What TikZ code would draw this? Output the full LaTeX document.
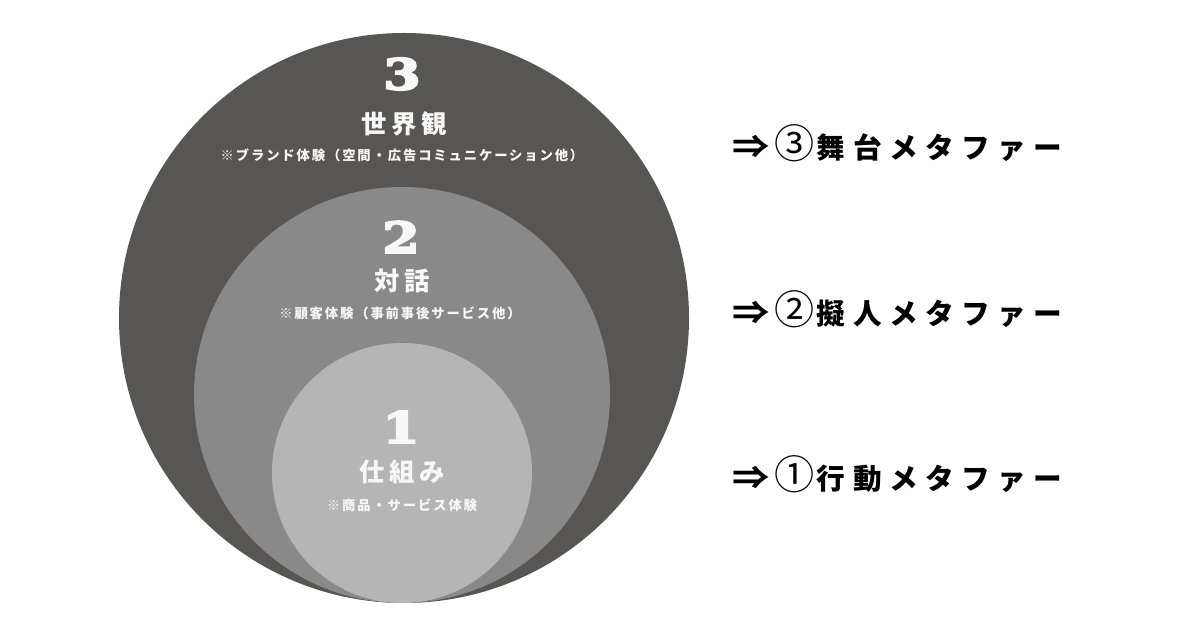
\documentclass[tikz,border=0pt]{standalone}
\usepackage{fontspec}
\newfontfamily\titlefont[LetterSpace=18]{Noto Sans CJK JP}
\newfontfamily\notefont[LetterSpace=14]{Noto Sans CJK JP}
\newfontfamily\metafont[LetterSpace=26]{Noto Sans CJK JP}
\newfontfamily\ringfont{Noto Sans CJK JP}
\newfontfamily\numfont[FakeBold=4.5]{DejaVu Serif Bold}
\definecolor{worldgray}{HTML}{585654}
\definecolor{talkgray}{HTML}{898989}
\definecolor{mechgray}{HTML}{B4B5B4}
\definecolor{labelwhite}{HTML}{F7F7F7}
\newcommand\metaline[2]{\makebox[31.5pt][l]{\scalebox{1.3}[1.1]{⇒}}\makebox[32pt][l]{\ringfont\mdseries\scalebox{1.4}{#1}}#2}
\tikzset{
  disc/.style={circle, inner sep=0pt, draw=none},
  num/.style={text=labelwhite, inner sep=0pt, font=\numfont\fontsize{32}{32}\selectfont},
  title/.style={text=labelwhite, inner sep=0pt, font=\titlefont\bfseries\fontsize{19}{19}\selectfont},
  note/.style={text=labelwhite, inner sep=0pt, font=\notefont\bfseries\fontsize{10}{10}\selectfont},
  meta/.style={text=black, inner sep=0pt, anchor=west, font=\metafont\bfseries\fontsize{21.5}{21.5}\selectfont}
}
\begin{document}
\begin{tikzpicture}[x=0.75pt,y=-0.75pt]
  \useasboundingbox (0,0) rectangle (1200,630);
  \node[disc, fill=worldgray, minimum size=427.5pt] (world) at (404,318) {};
  \node[disc, fill=talkgray, minimum size=312pt] (talk) at (402,395) {};
  \node[disc, fill=mechgray, minimum size=195pt] (mech) at (402,473) {};

  \node[num] (n3) at (402,74) {\scalebox{1.25}[1]{3}};
  \node[title] (t3) at (404,124) {世界観};
  \node[note] (s3) at (402,155) {※ブランド体験（空間・広告コミュニケーション他）};

  \node[num] (n2) at (401,237) {\scalebox{1.25}[1]{2}};
  \node[title] (t2) at (402,281) {対話};
  \node[note] (s2) at (400,313) {※顧客体験（事前事後サービス他）};

  \node[num] (n1) at (401,427) {\scalebox{1.25}[1]{1}};
  \node[title] (t1) at (402,472) {仕組み};
  \node[note] (s1) at (402,505) {※商品・サービス体験};

  \node[meta] (m3) at (732,143) {\metaline{③}{舞台メタファー}};
  \node[meta] (m2) at (732,309) {\metaline{②}{擬人メタファー}};
  \node[meta] (m1) at (732,474) {\metaline{①}{行動メタファー}};
\end{tikzpicture}
\end{document}
